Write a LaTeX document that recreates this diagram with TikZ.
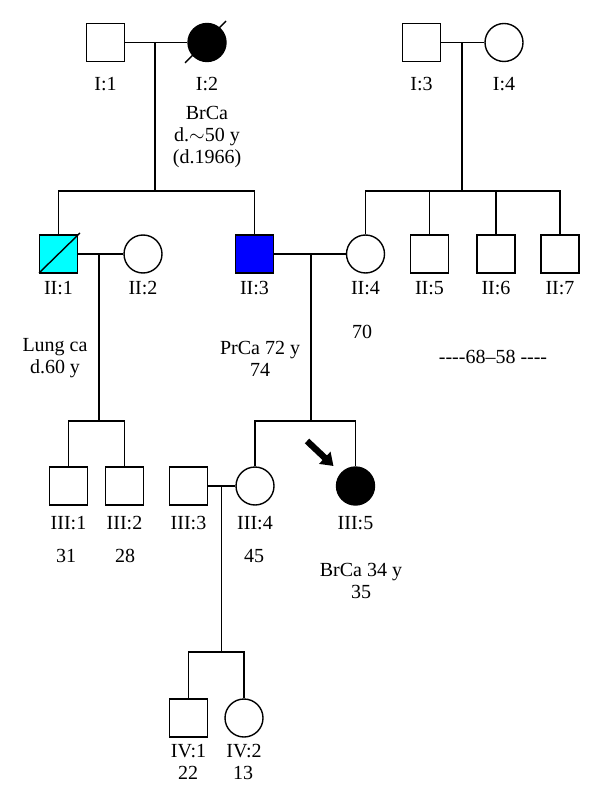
\documentclass[tikz,border=0pt]{standalone}
\usepackage{fontspec}
\setmainfont{Liberation Serif}
\usetikzlibrary{arrows.meta,calc,positioning}
\definecolor{lungcyan}{RGB}{0,255,255}
\definecolor{prcablue}{RGB}{0,0,255}

\begin{document}
\begin{tikzpicture}[x=0.5pt, y=-0.5pt, line width=0.7pt,
	male/.style={draw, rectangle, minimum size=19pt, inner sep=0pt},
	female/.style={draw, circle, minimum size=19pt, inner sep=0pt},
	tag/.style={inner sep=0pt, align=center, font=\fontsize{10}{11}\selectfont},
	proband/.style={line width=3.2pt, -{Triangle[length=6pt, width=8pt]}}]

	\useasboundingbox (0,0) rectangle (600,806);

	% generation I
	\node[male] (I1) at (105.5,42.5) {};
	\node[female, fill=black] (I2) at (207,42.5) {};
	\node[male] (I3) at (421.5,42.5) {};
	\node[female] (I4) at (504,42.5) {};
	\draw ([shift={(-22,20.5)}]I2.center) -- ([shift={(19,-21.5)}]I2.center);

	% generation II
	\node[male, fill=lungcyan] (II1) at (58.5,254) {};
	\node[female] (II2) at (143,254) {};
	\node[male, fill=prcablue] (II3) at (254.5,254) {};
	\node[female] (II4) at (365.5,254) {};
	\node[male] (II5) at (429.5,254) {};
	\node[male] (II6) at (496,254) {};
	\node[male] (II7) at (560,254) {};
	\draw ([shift={(-19.5,19)}]II1.center) -- ([shift={(21.5,-21)}]II1.center);

	% generation III
	\node[male] (III1) at (68.5,486) {};
	\node[male] (III2) at (124.5,486) {};
	\node[male] (III3) at (188.5,486) {};
	\node[female] (III4) at (255,486) {};
	\node[female, fill=black] (III5) at (355.5,486) {};

	% generation IV
	\node[male] (IV1) at (188.5,718) {};
	\node[female] (IV2) at (244,718) {};

	% marriages and sibships
	\coordinate (m1) at (155,42.5);
	\coordinate (s1) at (155,191);
	\draw (I1) -- (I2);
	\draw (m1) -- (s1);
	\draw (II1.north) |- (s1) -| (II3.north);

	\coordinate (m2) at (462,42.5);
	\coordinate (s2) at (462,191);
	\draw (I3) -- (I4);
	\draw (m2) -- (s2);
	\draw (II4.north) |- (s2) -| (II7.north);
	\draw (II5.north) -- (II5.north |- s2);
	\draw (II6.north) -- (II6.north |- s2);

	\coordinate (m3) at (99,254);
	\coordinate (s3) at (99,421);
	\draw (II1) -- (II2);
	\draw (m3) -- (s3);
	\draw (III1.north) |- (s3) -| (III2.north);

	\coordinate (m4) at (311,254);
	\coordinate (s4) at (311,421);
	\draw (II3) -- (II4);
	\draw (m4) -- (s4);
	\draw (III4.north) |- (s4) -| (III5.north);

	\coordinate (m5) at (221.5,486);
	\coordinate (s5) at (221.5,652);
	\draw (III3) -- (III4);
	\draw (m5) -- (s5);
	\draw (IV1.north) |- (s5) -| (IV2.north);

	% proband
	\coordinate (pb) at (307,441);
	\draw[proband] (pb) -- ([shift={(-22,-20)}]III5.center);

	% ids
	\node[tag, below=7pt of I1] (lI1) {I:1};
	\node[tag, below=7pt of I2] (lI2) {I:2};
	\node[tag, below=7pt of I3] (lI3) {I:3};
	\node[tag, below=7pt of I4] (lI4) {I:4};
	\node[tag, below=3.5pt of II1] (lII1) {II:1};
	\node[tag, below=3.5pt of II2] (lII2) {II:2};
	\node[tag, below=3.5pt of II3] (lII3) {II:3};
	\node[tag, below=3.5pt of II4] (lII4) {II:4};
	\node[tag, below=3.5pt of II5] (lII5) {II:5};
	\node[tag, below=3.5pt of II6] (lII6) {II:6};
	\node[tag, below=3.5pt of II7] (lII7) {II:7};
	\node[tag, below=5pt of III1] (lIII1) {III:1};
	\node[tag, below=5pt of III2] (lIII2) {III:2};
	\node[tag, below=5pt of III3] (lIII3) {III:3};
	\node[tag, below=5pt of III4] (lIII4) {III:4};
	\node[tag, below=5pt of III5] (lIII5) {III:5};
	\node[tag, below=3pt of IV1] (lIV1) {IV:1};
	\node[tag, below=3pt of IV2] (lIV2) {IV:2};

	% notes and ages
	\node[tag] (nI2) at (207,137) {BrCa\\d.$\sim$50 y\\(d.1966)};
	\node[tag] (nII1) at (55,358.5) {Lung ca\\d.60 y};
	\node[tag] (nII3) at (260,359) {PrCa 72 y\\74};
	\node[tag] (aII4) at (362,332) {70};
	\node[tag] (aII5) at (493,357) {-{}-{}-{}-68--58 -{}-{}-{}-};
	\node[tag] (aIII1) at (66,556) {31};
	\node[tag] (aIII2) at (125,556) {28};
	\node[tag] (aIII4) at (254,556) {45};
	\node[tag] (nIII5) at (361,581) {BrCa 34 y\\35};
	\node[tag] (aIV1) at (188,773) {22};
	\node[tag] (aIV2) at (243,773) {13};

\end{tikzpicture}
\end{document}
